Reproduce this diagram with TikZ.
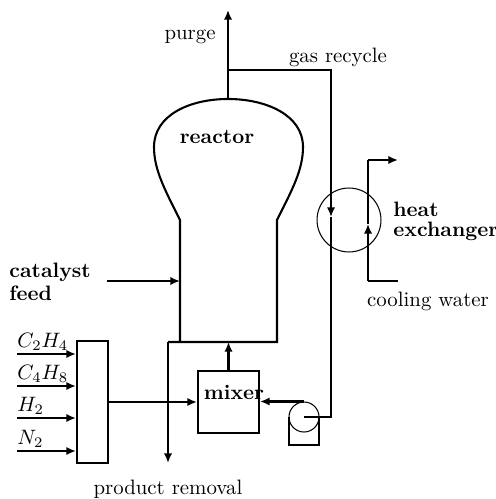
\documentclass[tikz,border=0pt]{standalone}
\usetikzlibrary{arrows.meta}
\tikzset{
  pipe/.style={line width=1pt},
  flow/.style={pipe,-{Latex[length=4.6pt,width=4pt]}},
  thin circle/.style={draw,circle,line width=0.5pt,inner sep=0pt},
  unit/.style={draw,pipe,rectangle,inner sep=0pt},
  boldlabel/.style={font=\bfseries,inner sep=0pt},
  plainlabel/.style={inner sep=0pt}
}
\begin{document}
\begin{tikzpicture}[x=0.48pt,y=-0.48pt]
\useasboundingbox (0,0) rectangle (495,499);
% units
\node[unit,minimum width=14.9pt,minimum height=58.6pt] (feedbox) at (92.5,402) {};
\node[unit,minimum width=29.3pt,minimum height=29.8pt] (mixer) at (228.5,402) {};
\node[thin circle,minimum size=30.7pt] (exchanger) at (349,220) {};
\node[thin circle,minimum size=14.4pt] (pump) at (304,417) {};
% reactor
\coordinate (reactortop) at (228,99);
\coordinate (leftneck) at (180,220);
\coordinate (rightneck) at (277,220);
\coordinate (leftfoot) at (180,342);
\coordinate (rightfoot) at (277,342);
\coordinate (productcorner) at (168,342);
\draw[pipe] (productcorner) -- (rightfoot) -- (rightneck)
  .. controls (292,190) and (303,170) .. (303,147)
  .. controls (303,115) and (266,99) .. (reactortop)
  .. controls (190,99) and (154,115) .. (154,147)
  .. controls (154,170) and (165,190) .. (leftneck) -- (leftfoot);
% purge and recycle
\coordinate (purgeend) at (228,10);
\coordinate (recycletee) at (228,70);
\coordinate (recyclecorner) at (331,70);
\coordinate (recyclearrow) at (331,217);
\coordinate (pumpcorner) at (331,417);
\draw[flow] (reactortop) -- (purgeend);
\draw[flow] (recycletee) -- (recyclecorner) -- (recyclearrow);
\draw[pipe] (recyclearrow) -- (pumpcorner) -- (pump.center);
% pump stand and return
\coordinate (standleft) at (289,417);
\coordinate (standright) at (319,417);
\coordinate (standbl) at (289,445);
\coordinate (standbr) at (319,445);
\draw[pipe] (standleft) -- (standbl) -- (standbr) -- (standright);
\draw[flow] (pump.north) -- (pump.north -| mixer.east);
% mixer and product
\draw[flow] (mixer.north) -- (mixer.north |- rightfoot);
\coordinate (productend) at (168,463);
\draw[flow] (productcorner) -- (productend);
\draw[flow] (feedbox.east) -- (mixer.west);
% catalyst feed
\coordinate (catalyststart) at (107,281);
\draw[flow] (catalyststart) -- (catalyststart -| leftneck);
% cooling water
\coordinate (coolin) at (398,281);
\coordinate (coolbottom) at (368,281);
\coordinate (coolarrow) at (368,224);
\coordinate (cooltop) at (368,160);
\coordinate (coolout) at (398,160);
\draw[pipe] (coolin) -- (coolbottom);
\draw[flow] (coolbottom) -- (coolarrow);
\draw[pipe] (coolarrow) -- (cooltop);
\draw[flow] (cooltop) -- (coolout);
% feeds
\foreach \name/\ypos/\lab in {ca/354/C_2H_4,cb/386/C_4H_8,cc/418/H_2,cd/451/N_2}{
  \coordinate (\name) at (17,\ypos);
  \draw[flow] (\name) -- (\name -| feedbox.west);
  \node[plainlabel,anchor=south west,yshift=1.4pt] (\name label) at (\name) {$\lab$};
}
% labels
\node[plainlabel] (purgelabel) at (190,37) {purge};
\node[plainlabel] (recyclelabel) at (338,57) {gas recycle};
\node[boldlabel] (reactorlabel) at (217,137) {reactor};
\node[boldlabel] (mixerlabel) at (234,392) {mixer};
\node[boldlabel,anchor=west] (heatlabel) at (393,209) {heat};
\node[boldlabel,anchor=west] (exchangerlabel) at (393,231) {exchanger};
\node[boldlabel,anchor=west] (catalystlabel) at (9,272) {catalyst};
\node[boldlabel,anchor=west] (feedlabel) at (9,293) {feed};
\node[plainlabel] (coolinglabel) at (428,301) {cooling water};
\node[plainlabel] (productlabel) at (168,489) {product removal};
\end{tikzpicture}
\end{document}
